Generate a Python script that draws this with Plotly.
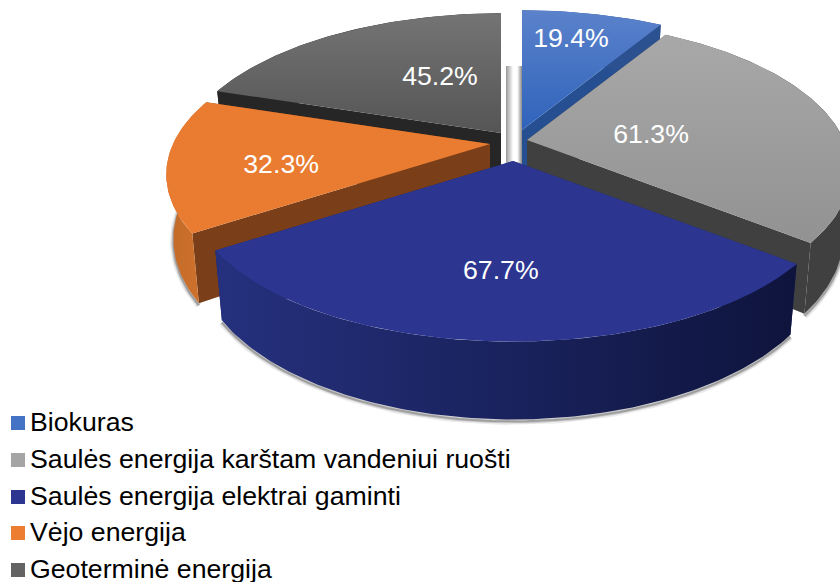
import math
import plotly.graph_objects as go

# ---- data ----
categories = ["Biokuras", "Saulės energija karštam vandeniui ruošti",
              "Saulės energija elektrai gaminti", "Vėjo energija", "Geoterminė energija"]
values = [19.4, 61.3, 67.7, 32.3, 45.2]

# ---- style ----
top_grad = [("#5b82cb", "#2f63bb"), ("#a8a8a8", "#929292"), ("#2c3691", "#2c3691"),
            ("#e97c30", "#e97c30"), ("#747474", "#555555")]
rim_grad = [("#2b5190", "#2b5190"), ("#404040", "#404040"), ("#25317e", "#0e143c"),
            ("#c36a29", "#d0752e"), ("#262626", "#262626")]
wall = ["#264f92", "#404040", "#1a2260", "#7a3e18", "#262626"]
legend_col = ["#4472c4", "#a5a5a5", "#2c3691", "#ed7d31", "#636363"]

# ---- projection / layout ----
RX, RY, K, DEPTH, SHRINK = 317, 144, 0.203, 62, 0.978
tips = [(522, 130), (527, 140), (513, 161), (490, 144), (501, 133)]
label_angle = [13.6, 83.9, 182.9, 258, 334]
label_radius = [0.755, 0.397, 0.657, 0.655, 0.477]
LABEL_DY = 2
FONT = "Liberation Sans, Arial, sans-serif"
W, H = 840, 582
legend_y = [423, 460, 497, 533, 570]
LEG_X = 18
LEG_TEXT_X = 30
LEG_TEXT_DY = 1.5


def plane(theta_deg, r=1.0):
    t = math.radians(theta_deg)
    u, v = r * math.sin(t), r * math.cos(t)
    w = 1 + K * v
    return RX * u / w, -RY * v / w, w


def top_pt(tip, theta, r=1.0):
    dx, dy, _ = plane(theta, r)
    return tip[0] + dx, tip[1] + dy


def bot_pt(tip, theta, r=1.0):
    dx, dy, w = plane(theta, r)
    return tip[0] + dx * SHRINK, tip[1] + dy + DEPTH / w


def arc(a, b, step=1.0):
    n = max(2, int(abs(b - a) / step))
    return [a + (b - a) * i / n for i in range(n + 1)]


fig = go.Figure()


def poly(xs, ys, color=None, grad=None, gtype="vertical"):
    kw = dict(x=xs, y=ys, mode="lines", fill="toself", line=dict(width=0),
              hoverinfo="skip", showlegend=False)
    if grad:
        kw["fillgradient"] = dict(type=gtype, colorscale=[[0, grad[0]], [1, grad[1]]])
    else:
        kw["fillcolor"] = color
    fig.add_trace(go.Scatter(**kw))


total = sum(values)
spans = []
a = 0.0
for v in values:
    spans.append((a, a + v / total * 360))
    a += v / total * 360

# soft gap shadow behind the pulled slices
fig.add_trace(go.Scatter(x=[506, 522, 522, 506, 506], y=[66, 66, 165, 165, 66], mode="lines",
                         fill="toself", line=dict(width=0), hoverinfo="skip", showlegend=False,
                         fillgradient=dict(type="horizontal", colorscale=[[0, "#999999"], [0.45, "#ffffff"], [0.7, "#ffffff"], [1, "#888888"]])))

# slices, back to front
for i in [4, 0, 1, 3, 2]:
    s, e = spans[i]
    tip = tips[i]
    ths = arc(s, e)
    # soft shadow below the rim
    if i in (1, 2, 3):
        rim_th = [t for t in ths if 90 < (t % 360) < 270 or i == 3]
        bx = [bot_pt(tip, t)[0] for t in rim_th]
        by = [bot_pt(tip, t)[1] + 2 for t in rim_th]
        for lw, al in ((7, 0.10), (4, 0.18), (2, 0.3)):
            fig.add_trace(go.Scatter(x=bx, y=by, mode="lines", hoverinfo="skip", showlegend=False,
                                     line=dict(width=lw, color=f"rgba(60,60,60,{al})")))
    # radial walls
    for t in (s, e):
        p, q = top_pt(tip, t), bot_pt(tip, t)
        b0 = (tip[0], tip[1] + DEPTH)
        poly([tip[0], p[0], q[0], b0[0], tip[0]], [tip[1], p[1], q[1], b0[1], tip[1]], wall[i])
    # outer rim
    tx = [top_pt(tip, t)[0] for t in ths]
    ty = [top_pt(tip, t)[1] for t in ths]
    bx = [bot_pt(tip, t)[0] for t in ths]
    by = [bot_pt(tip, t)[1] for t in ths]
    poly(tx + bx[::-1] + tx[:1], ty + by[::-1] + ty[:1], grad=rim_grad[i], gtype="horizontal")
    # top face
    poly([tip[0]] + tx + [tip[0]], [tip[1]] + ty + [tip[1]],
         grad=(top_grad[i][1], top_grad[i][0]), gtype="vertical")

# value labels
lx, ly = [], []
for i in range(len(values)):
    p = top_pt(tips[i], label_angle[i], label_radius[i])
    lx.append(p[0])
    ly.append(p[1] + LABEL_DY)
fig.add_trace(go.Scatter(x=lx, y=ly, mode="text", text=[f"{v}%" for v in values], hoverinfo="skip",
                         showlegend=False, textposition="middle center",
                         textfont=dict(family=FONT, size=26.7, color="white")))

# legend
fig.add_trace(go.Scatter(x=[LEG_X] * 5, y=legend_y, mode="markers", hoverinfo="skip", showlegend=False,
                         cliponaxis=False,
                         marker=dict(symbol="square", size=14, color=legend_col)))
fig.add_trace(go.Scatter(x=[LEG_TEXT_X] * 5, y=[y + LEG_TEXT_DY for y in legend_y], mode="text", text=categories,
                         textposition="middle right", hoverinfo="skip", showlegend=False,
                         cliponaxis=False,
                         textfont=dict(family=FONT, size=26.7, color="black")))

fig.update_layout(width=W, height=H, autosize=False, margin=dict(l=0, r=0, t=0, b=0),
                  paper_bgcolor="white", plot_bgcolor="white", showlegend=False,
                  xaxis=dict(range=[0, W], visible=False, fixedrange=True),
                  yaxis=dict(range=[H, 0], visible=False, fixedrange=True))
fig.write_html("out.html", post_script="document.body.style.margin='0';document.body.style.overflow='hidden';",
               config={"displayModeBar": False})
